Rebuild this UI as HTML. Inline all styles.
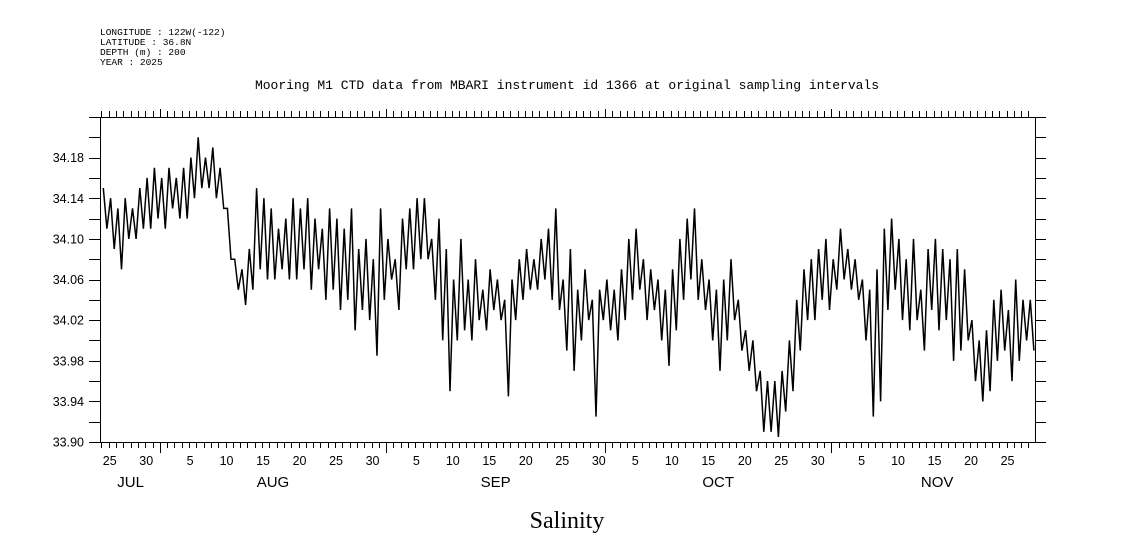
<!DOCTYPE html>
<html><head><meta charset="utf-8"><style>
html,body{margin:0;padding:0;background:#fff;}
svg{display:block;font-family:"Liberation Mono",monospace;}
</style></head><body>
<svg id="chart" width="1121" height="560" viewBox="0 0 1121 560">
<g font-size="9.5" fill="#000" font-family="'Liberation Mono',monospace">
<text x="100" y="35">LONGITUDE : 122W(-122)</text>
<text x="100" y="45">LATITUDE : 36.8N</text>
<text x="100" y="55">DEPTH (m) : 200</text>
<text x="100" y="65">YEAR : 2025</text>
</g>
<text x="567" y="89" text-anchor="middle" font-size="13">Mooring M1 CTD data from MBARI instrument id 1366 at original sampling intervals</text>
<text x="567" y="528" text-anchor="middle" font-size="24" font-family="'Liberation Serif',serif">Salinity</text>
<rect x="100.5" y="117.5" width="935" height="325" fill="none" stroke="#000" stroke-width="1"/>
<g id="axes"></g>
<g id="series"></g>
</svg>
<script>
// day index t: days since Jul 1 (Jul 1 = 0); two samples per day (hi, lo) starting t=23
const startDay = 23;
const salinity = [
34.15,34.11, 34.14,34.09, 34.13,34.07, 34.14,34.10, 34.13,34.10, 34.15,34.11, 34.16,34.11, 34.17,34.12,
34.16,34.11, 34.17,34.13, 34.16,34.12, 34.17,34.12, 34.18,34.14, 34.20,34.15, 34.18,34.15, 34.19,34.14,
34.17,34.13, 34.13,34.08, 34.08,34.05, 34.07,34.035, 34.09,34.05, 34.15,34.07, 34.14,34.06, 34.13,34.06,
34.11,34.07, 34.12,34.06, 34.14,34.06, 34.13,34.07, 34.14,34.05, 34.12,34.07, 34.11,34.04, 34.13,34.05,
34.12,34.03, 34.11,34.04, 34.13,34.01, 34.09,34.03, 34.10,34.02, 34.08,33.985, 34.13,34.04, 34.10,34.06,
34.08,34.03, 34.12,34.07, 34.13,34.07, 34.14,34.08, 34.14,34.08, 34.10,34.04, 34.12,34.00, 34.09,33.95,
34.06,34.00, 34.10,34.01, 34.06,34.00, 34.08,34.02, 34.05,34.01, 34.07,34.03, 34.06,34.02, 34.04,33.945,
34.06,34.02, 34.08,34.04, 34.09,34.05, 34.08,34.05, 34.10,34.06, 34.11,34.04, 34.13,34.03, 34.06,33.99,
34.09,33.97, 34.05,34.00, 34.07,34.02, 34.04,33.925, 34.05,34.02, 34.06,34.01, 34.05,34.00, 34.07,34.02,
34.10,34.04, 34.11,34.05, 34.08,34.02, 34.07,34.03, 34.06,34.00, 34.05,33.975, 34.07,34.01, 34.10,34.04,
34.12,34.06, 34.13,34.04, 34.08,34.03, 34.06,34.00, 34.05,33.97, 34.06,34.00, 34.08,34.02, 34.04,33.99,
34.01,33.97, 34.00,33.95, 33.97,33.91, 33.96,33.91, 33.96,33.905, 33.97,33.93, 34.00,33.95, 34.04,33.99,
34.07,34.02, 34.08,34.02, 34.09,34.04, 34.10,34.03, 34.08,34.05, 34.11,34.06, 34.09,34.05, 34.08,34.04,
34.06,34.00, 34.05,33.925, 34.07,33.94, 34.11,34.03, 34.12,34.05, 34.10,34.02, 34.08,34.01, 34.10,34.02,
34.05,33.99, 34.09,34.03, 34.10,34.01, 34.09,34.02, 34.08,33.98, 34.09,33.99, 34.07,34.00, 34.02,33.96,
34.00,33.94, 34.01,33.95, 34.04,33.98, 34.05,33.99, 34.03,33.96, 34.06,33.98, 34.04,34.00, 34.04,33.99
];
const yTicks = [33.90,33.94,33.98,34.02,34.06,34.10,34.14,34.18];
const dayLabels = ["25","30","5","10","15","20","25","30","5","10","15","20","25","30","5","10","15","20","25","30","5","10","15","20","25"];
const dayLabelDays = [24,29,35,40,45,50,55,60,66,71,76,81,86,91,96,101,106,111,116,121,127,132,137,142,147];
const monthNames = ["JUL","AUG","SEP","OCT","NOV"];
const monthLabelDays = [27,46.5,77,107.5,137.5];
const monthStarts = [31,62,92,123];

const X0=100,X1=1035,Y0=442,Y1=117;
const T0=22.8,T1=150.9,V0=33.90,V1=34.22;
const xs=t=>X0+(t-T0)/(T1-T0)*(X1-X0);
const ys=v=>Y0-(v-V0)/(V1-V0)*(Y0-Y1);
const NS="http://www.w3.org/2000/svg";
const axes=document.getElementById('axes');
function mk(tag,attrs,parent){const e=document.createElementNS(NS,tag);for(const k in attrs)e.setAttribute(k,attrs[k]);parent.appendChild(e);return e;}

let d="";
for(let t=Math.ceil(T0);t<=T1;t++){
  const x=Math.round(xs(t))+0.5;
  const major=monthStarts.includes(t);
  d+=`M${x},${Y0}v${major?11:6}M${x},${Y1}v${-(major?8:6)}`;
}
for(let i=0;i<=16;i++){
  const y=Math.round(ys(V0+i*0.02))+0.5;
  d+=`M${X0},${y}h-11M${X1},${y}h11`;
}
const tk=mk('path',{d:d,stroke:'#000','stroke-width':1,fill:'none'},axes);



yTicks.forEach(v=>{
  const t=mk('text',{x:84,y:ys(v)+4.5,'text-anchor':'end','font-size':12.5,'font-family':"'Liberation Sans',sans-serif"},axes);
  t.textContent=v.toFixed(2);
  
  
});
dayLabels.forEach((s,i)=>{
  const t=mk('text',{x:xs(dayLabelDays[i])+1,y:465,'text-anchor':'middle','font-size':12.5,'font-family':"'Liberation Sans',sans-serif"},axes);
  t.textContent=s;
  
  
});
monthNames.forEach((s,i)=>{
  const t=mk('text',{x:xs(monthLabelDays[i]),y:487,'text-anchor':'middle','font-size':15,'font-family':"'Liberation Sans',sans-serif"},axes);
  t.textContent=s;
  
  
});

const pts=salinity.map((v,i)=>xs(startDay+0.25+i*0.5).toFixed(1)+','+ys(v).toFixed(1)).join(' ');
const line=mk('polyline',{points:pts,fill:'none',stroke:'#000','stroke-width':1.5},document.getElementById('series'));


</script>
</body></html>
